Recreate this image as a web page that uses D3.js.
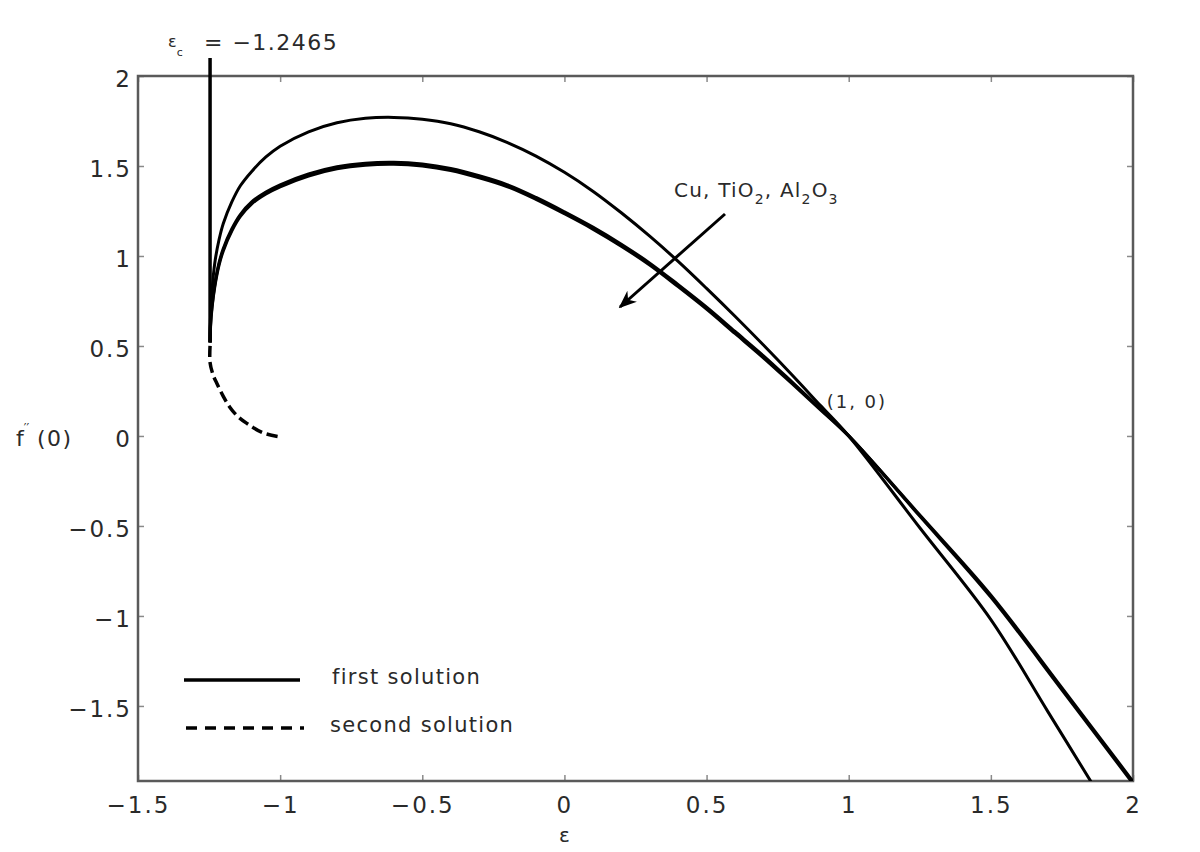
<!DOCTYPE html>
<html>
<head>
<meta charset="utf-8">
<script src="https://cdn.jsdelivr.net/npm/d3@7"></script>
<style>
  body { margin: 0; background: #fff; }
  text { font-family: "DejaVu Sans", "Liberation Sans", Arial, sans-serif; fill: #2a2a2a; }
</style>
</head>
<body>
<svg width="1200" height="852"></svg>
<script>
// critical value of epsilon
var epsC = -1.2465;

// first solution, Cu (upper hump, steeper after (1,0))
var firstCu = [
  [-1.2465, 0.52], [-1.245, 0.66], [-1.24, 0.80], [-1.23, 0.96], [-1.215, 1.09],
  [-1.2, 1.18], [-1.17, 1.30], [-1.14, 1.39], [-1.1, 1.47], [-1.05, 1.55],
  [-1.0, 1.61], [-0.9, 1.69], [-0.8, 1.74], [-0.7, 1.765], [-0.6, 1.77],
  [-0.5, 1.76], [-0.4, 1.735], [-0.3, 1.69], [-0.2, 1.63], [-0.1, 1.555],
  [0, 1.465], [0.1, 1.36], [0.2, 1.24], [0.3, 1.11], [0.4, 0.97],
  [0.5, 0.82], [0.6, 0.665], [0.7, 0.505], [0.8, 0.34], [0.9, 0.17],
  [1.0, 0.0], [1.25, -0.51], [1.5, -1.02], [1.7, -1.53], [1.852, -1.92]
];

// first solution, TiO2
var firstTiO2 = [
  [-1.2465, 0.52], [-1.245, 0.62], [-1.24, 0.72], [-1.23, 0.84], [-1.215, 0.96],
  [-1.2, 1.04], [-1.17, 1.15], [-1.14, 1.23], [-1.1, 1.30], [-1.05, 1.355],
  [-1.0, 1.395], [-0.9, 1.455], [-0.8, 1.495], [-0.7, 1.515], [-0.6, 1.52],
  [-0.5, 1.51], [-0.4, 1.485], [-0.3, 1.445], [-0.2, 1.395], [-0.1, 1.325],
  [0, 1.245], [0.1, 1.16], [0.2, 1.065], [0.3, 0.96], [0.4, 0.84],
  [0.5, 0.715], [0.6, 0.58], [0.7, 0.445], [0.8, 0.30], [0.9, 0.152],
  [1.0, 0.0], [1.25, -0.44], [1.5, -0.885], [1.75, -1.40], [2.0, -1.92]
];

// first solution, Al2O3
var firstAl2O3 = [
  [-1.2465, 0.52], [-1.245, 0.61], [-1.24, 0.71], [-1.23, 0.83], [-1.215, 0.95],
  [-1.2, 1.03], [-1.17, 1.14], [-1.14, 1.22], [-1.1, 1.29], [-1.05, 1.345],
  [-1.0, 1.385], [-0.9, 1.445], [-0.8, 1.485], [-0.7, 1.505], [-0.6, 1.51],
  [-0.5, 1.50], [-0.4, 1.475], [-0.3, 1.435], [-0.2, 1.385], [-0.1, 1.315],
  [0, 1.235], [0.1, 1.15], [0.2, 1.055], [0.3, 0.95], [0.4, 0.83],
  [0.5, 0.705], [0.6, 0.57], [0.7, 0.435], [0.8, 0.292], [0.9, 0.147],
  [1.0, 0.0], [1.25, -0.445], [1.5, -0.895], [1.75, -1.41], [1.995, -1.92]
];

// second solution (dashed)
var second = [
  [-1.2465, 0.50], [-1.2468, 0.41], [-1.236, 0.34], [-1.222, 0.29], [-1.2, 0.22],
  [-1.177, 0.16], [-1.15, 0.11], [-1.117, 0.07], [-1.06, 0.017], [-1.0, -0.005]
];

// vertical marker at eps_c
var epsLine = [[epsC, 0.52], [epsC, 2.1]];

var xTicks = [-1.5, -1, -0.5, 0, 0.5, 1, 1.5, 2];
var yTicks = [-1.5, -1, -0.5, 0, 0.5, 1, 1.5, 2];

var svg = d3.select("svg");
var mLeft = 138, mRight = 1133, mTop = 76, mBottom = 781;

var x = d3.scaleLinear().domain([-1.5, 2]).range([mLeft, mRight]);
var y = d3.scaleLinear().domain([-1.917, 2]).range([mBottom, mTop]);

function fmt(d) { return (d < 0 ? "\u2212" : "") + Math.abs(d); }

var axisColor = "#5a5a5a";

// axes with inward ticks
function styleAxis(g) {
  g.select(".domain").remove();
  g.selectAll(".tick line").attr("stroke", "#8a8a8a").attr("stroke-width", 1.5);
  g.selectAll(".tick text").attr("font-size", 23).attr("fill", "#2a2a2a")
    .attr("font-family", null).attr("letter-spacing", 2);
}

svg.append("g").attr("transform", "translate(0," + mBottom + ")")
  .call(d3.axisBottom(x).tickValues(xTicks).tickFormat(fmt).tickSizeInner(-6).tickSizeOuter(0).tickPadding(16))
  .call(styleAxis)
  .selectAll(".tick text").attr("dy", "0.71em");
svg.append("g").attr("transform", "translate(0," + mTop + ")")
  .call(d3.axisTop(x).tickValues(xTicks).tickFormat("").tickSizeInner(-6).tickSizeOuter(0))
  .call(styleAxis);
svg.append("g").attr("transform", "translate(" + mLeft + ",0)")
  .call(d3.axisLeft(y).tickValues(yTicks).tickFormat(fmt).tickSizeInner(-6).tickSizeOuter(0).tickPadding(6))
  .call(styleAxis)
  .selectAll(".tick text").attr("dy", "0.45em");
svg.append("g").attr("transform", "translate(" + mRight + ",0)")
  .call(d3.axisRight(y).tickValues(yTicks).tickFormat("").tickSizeInner(-6).tickSizeOuter(0))
  .call(styleAxis);

svg.append("rect")
  .attr("x", mLeft).attr("y", mTop)
  .attr("width", mRight - mLeft).attr("height", mBottom - mTop)
  .attr("fill", "none").attr("stroke", axisColor).attr("stroke-width", 2.5);

// curves
svg.append("clipPath").attr("id", "clip")
  .append("rect").attr("x", mLeft).attr("y", mTop - 30).attr("width", mRight - mLeft).attr("height", mBottom - mTop + 30);

var line = d3.line().x(function(d) { return x(d[0]); }).y(function(d) { return y(d[1]); })
  .curve(d3.curveCatmullRom.alpha(0.5));

var plot = svg.append("g").attr("clip-path", "url(#clip)");

plot.append("path").datum(firstCu).attr("d", line)
  .attr("fill", "none").attr("stroke", "#000").attr("stroke-width", 3);
plot.append("path").datum(firstTiO2).attr("d", line)
  .attr("fill", "none").attr("stroke", "#000").attr("stroke-width", 3.2);
plot.append("path").datum(firstAl2O3).attr("d", line)
  .attr("fill", "none").attr("stroke", "#000").attr("stroke-width", 3.2);
plot.append("path").datum(second).attr("d", line)
  .attr("fill", "none").attr("stroke", "#000").attr("stroke-width", 3.5)
  .attr("stroke-dasharray", "11,5");

svg.append("path").datum(epsLine).attr("d", d3.line().x(function(d) { return x(d[0]); }).y(function(d) { return y(d[1]); }))
  .attr("fill", "none").attr("stroke", "#000").attr("stroke-width", 3.5);

// eps_c annotation
var ec = svg.append("text").attr("x", 168).attr("y", 47).attr("font-size", 16);
ec.append("tspan").text("\u03b5");
ec.append("tspan").attr("font-size", 11).attr("dy", 9).text("c");
svg.append("text").attr("x", 204).attr("y", 50).attr("font-size", 22).attr("letter-spacing", 1.5).text("= \u22121.2465");

// material annotation and arrow
var mat = svg.append("text").attr("x", 674).attr("y", 197).attr("font-size", 20).attr("letter-spacing", 1.2);
mat.append("tspan").text("Cu, TiO");
mat.append("tspan").attr("font-size", 14).attr("dy", 7).text("2");
mat.append("tspan").attr("dy", -7).text(", Al");
mat.append("tspan").attr("font-size", 14).attr("dy", 7).text("2");
mat.append("tspan").attr("dy", -7).text("O");
mat.append("tspan").attr("font-size", 14).attr("dy", 7).text("3");

svg.append("defs").append("marker")
  .attr("id", "arrow").attr("viewBox", "0 0 10 10")
  .attr("refX", 9).attr("refY", 5)
  .attr("markerWidth", 6).attr("markerHeight", 6)
  .attr("markerUnits", "strokeWidth")
  .attr("orient", "auto")
  .append("path").attr("d", "M0,1 L10,5 L0,9 L3,5 Z").attr("fill", "#000");

svg.append("line")
  .attr("x1", 725).attr("y1", 214).attr("x2", 620).attr("y2", 307)
  .attr("stroke", "#000").attr("stroke-width", 3)
  .attr("marker-end", "url(#arrow)");

svg.append("text").attr("x", x(1) - 22).attr("y", y(0) - 28).attr("font-size", 18)
  .attr("letter-spacing", 2).text("(1, 0)");

// legend
svg.append("line").attr("x1", 184).attr("x2", 300).attr("y1", 680).attr("y2", 680)
  .attr("stroke", "#000").attr("stroke-width", 3.5);
svg.append("text").attr("x", 332).attr("y", 684).attr("font-size", 21).attr("letter-spacing", 1.3).text("first solution");
svg.append("line").attr("x1", 186).attr("x2", 304).attr("y1", 728).attr("y2", 728)
  .attr("stroke", "#000").attr("stroke-width", 3.5).attr("stroke-dasharray", "11,8");
svg.append("text").attr("x", 330).attr("y", 732).attr("font-size", 21).attr("letter-spacing", 1.3).text("second solution");

// axis labels
svg.append("text").attr("x", x(0)).attr("y", 842).attr("text-anchor", "middle").attr("font-size", 20).text("\u03b5");
var yl = svg.append("text").attr("x", 16).attr("y", 446).attr("font-size", 22);
yl.append("tspan").text("f");
yl.append("tspan").attr("font-size", 12).attr("dy", -14).text("\u2032\u2032");
yl.append("tspan").attr("x", 37).attr("dy", 14).attr("letter-spacing", 1.5).text("(0)");
</script>
</body>
</html>
